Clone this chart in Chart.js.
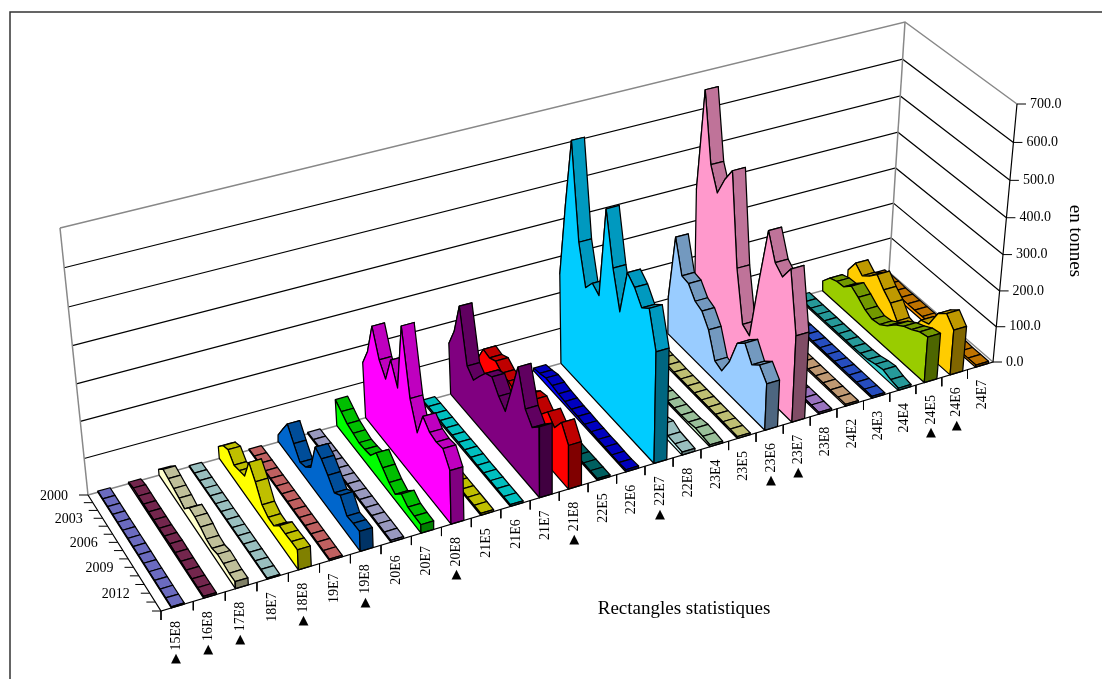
<!DOCTYPE html>
<html>
<head>
<meta charset="utf-8">
<title>Rectangles statistiques</title>
<script src="https://cdn.jsdelivr.net/npm/chart.js@4"></script>
<style>
    html, body { margin: 0; padding: 0; background: #fff; }
    canvas { display: block; }
</style>
</head>
<body>
<canvas id="chart" width="1102" height="679"></canvas>
<script>
const categories = ['15E8','16E8','17E8','18E7','18E8','19E7','19E8','20E6','20E7','20E8','21E5','21E6','21E7','21E8','22E5','22E6','22E7','22E8','23E4','23E5','23E6','23E7','23E8','24E2','24E3','24E4','24E5','24E6','24E7'];
const markedCategories = ['15E8','16E8','17E8','18E8','19E8','20E8','21E8','22E7','23E6','23E7','24E5','24E6'];
const years = [2000,2001,2002,2003,2004,2005,2006,2007,2008,2009,2010,2011,2012,2013,2014];
const yearLabels = [2000,2003,2006,2009,2012];
const valueTicks = [0,100,200,300,400,500,600,700];

// tonnes per year, one list per rectangle
const v15E8 = [3,3,3,3,3,3,3,3,3,3,3,3,3,3,3];
const v16E8 = [4,9,8,7,7,7,6,7,8,7,6,5,5,5,5];
const v17E8 = [16,37,32,26,21,13,37,35,29,19,16,23,21,18,19];
const v18E7 = [3,3,3,3,3,3,3,3,3,3,3,3,3,3,3];
const v18E8 = [33,56,65,43,49,55,113,82,41,29,28,51,51,53,54];
const v19E7 = [3,4,4,4,4,4,4,4,4,4,4,4,4,4,4];
const v19E8 = [19,55,90,56,25,33,53,129,118,95,69,84,50,53,54];
const v20E6 = [4,4,5,5,5,5,5,5,5,5,5,5,5,5,5];
const v20E7 = [73,59,45,39,33,35,39,67,47,28,17,40,26,24,23];
const v20E8 = [153,203,290,218,185,256,200,385,212,140,205,183,178,182,145];
const v21E5 = [5,5,5,5,5,5,5,5,5,5,5,5,5,5,5];
const v21E6 = [5,6,6,6,6,6,6,6,6,5,5,5,5,5,5];
const v21E7 = [142,194,281,136,116,146,174,184,151,130,208,290,198,169,192];
const v21E8 = [79,123,118,128,114,111,103,114,134,140,120,147,125,160,119];
const v22E5 = [5,5,5,5,5,5,5,5,5,5,5,5,5,5,5];
const v22E6 = [8,12,18,16,12,10,8,8,6,6,5,5,4,4,6];
const v22E7 = [250,455,642,390,285,315,300,548,410,312,435,415,380,398,303];
const v22E8 = [5,5,5,5,5,5,5,5,6,8,15,22,12,10,8];
const v23E4 = [5,5,5,5,5,5,5,5,5,5,5,6,10,8,5];
const v23E5 = [15,10,8,6,6,5,5,5,5,5,5,5,5,5,5];
const v23E6 = [103,290,200,196,165,156,122,54,45,90,161,181,141,160,129];
const v23E7 = [385,668,485,425,478,518,272,135,122,290,445,378,358,398,238];
const v23E8 = [5,5,5,5,5,5,5,5,5,5,5,5,5,5,5];
const v24E2 = [5,5,5,5,5,5,5,5,5,5,5,5,5,5,5];
const v24E3 = [5,5,5,5,5,5,5,5,5,5,5,5,5,5,5];
const v24E4 = [5,5,5,5,5,5,5,5,5,6,8,14,18,10,6];
const v24E5 = [28,54,62,64,84,70,53,44,48,63,85,100,110,123,128];
const v24E6 = [40,77,58,75,97,71,51,18,13,35,77,85,134,153,126];
const v24E7 = [10,12,12,10,10,10,10,10,10,10,8,8,6,6,6];
const seriesValues = [v15E8,v16E8,v17E8,v18E7,v18E8,v19E7,v19E8,v20E6,v20E7,v20E8,v21E5,v21E6,v21E7,v21E8,v22E5,v22E6,v22E7,v22E8,v23E4,v23E5,v23E6,v23E7,v23E8,v24E2,v24E3,v24E4,v24E5,v24E6,v24E7];
const seriesColors = ['#8F8FFF','#993366','#FFFFCC','#CCFFFF','#FFFF00','#FF8080','#0066CC','#CCCCFF','#00FF00','#FF00FF','#FFFF00','#00FFFF','#800080','#FF0000','#008080','#0000FF','#00CCFF','#CCFFFF','#CCFFCC','#FFFF99','#99CCFF','#FF99CC','#CC99FF','#FFCC99','#3366FF','#33CCCC','#99CC00','#FFCC00','#FF9900'];

// corners of the box as the picture shows them
const floorBL = [88,495], floorBR = [889,272], floorFR = [993,362], floorFL = [161,611];
const riseBL = [-28,-267], riseBR = [16,-250], riseFR = [24,-258], riseFL = [-20,-275];
const maxValue = 700;
const ribbonStart = 0.32;

const lerp = (a, b, t) => [a[0] + (b[0] - a[0]) * t, a[1] + (b[1] - a[1]) * t];
const warp = (t, k) => (1 + k) * t / (1 + k * t);

function project(cat, depth, value) {
    const t = cat / categories.length;
    const d = 0.92 * depth / (1 - 0.08 * depth);
    const back = lerp(floorBL, floorBR, warp(t, 0.12));
    const front = lerp(floorFL, floorFR, warp(t, 0.13));
    const base = lerp(back, front, d);
    const rise = lerp(lerp(riseBL, riseBR, t), lerp(riseFL, riseFR, t), depth);
    const x = value / maxValue;
    const h = 0.95 * x + 0.05 * x * x; // upper gridlines sit further apart
    return { x: base[0] + rise[0] * h, y: base[1] + rise[1] * h };
}

function darken(hex, f) {
    const n = parseInt(hex.slice(1), 16);
    const c = [n >> 16, (n >> 8) & 255, n & 255].map(x => Math.round(x * f));
    return `rgb(${c[0]},${c[1]},${c[2]})`;
}

const painted = [];

function addLine(points, color, width) {
    painted.push({ data: points, showLine: true, fill: false, borderColor: color, borderWidth: width, pointRadius: 0, clip: false });
}

function addPoly(points, color) {
    painted.push({ data: points.concat([points[0]]), showLine: true, fill: 'shape', backgroundColor: color, borderColor: '#000', borderWidth: 1.25, borderJoinStyle: 'round', pointRadius: 0, clip: false });
}

// outer frame
addLine([{ x: 10, y: 679 }, { x: 10, y: 12 }, { x: 1102, y: 12 }], '#333', 1.5);

// walls
const n = categories.length;
valueTicks.forEach(v => {
    const color = v === maxValue || v === 0 ? '#888' : '#000';
    const width = v === maxValue || v === 0 ? 1.5 : 1.2;
    addLine([project(0, 0, v), project(n, 0, v), project(n, 1, v)], color, width);
});
addLine([project(0, 0, 0), project(0, 0, maxValue)], '#888', 1.5);
addLine([project(n, 0, 0), project(n, 0, maxValue)], '#888', 1.5);

// ribbons, far right first so the nearer ones cover them
for (let i = n - 1; i >= 0; i--) {
    const vals = seriesValues[i];
    const color = seriesColors[i];
    const left = i + ribbonStart, right = left + 0.4 + 0.1 * i / n;
    const last = years.length - 1;
    for (let j = 0; j < last; j++) {
        addPoly([
            project(left, j / last, vals[j]),
            project(right, j / last, vals[j]),
            project(right, (j + 1) / last, vals[j + 1]),
            project(left, (j + 1) / last, vals[j + 1])
        ], darken(color, 0.75));
    }
    const face = [project(left, 0, 0)];
    vals.forEach((v, j) => face.push(project(left, j / last, v)));
    face.push(project(left, 1, 0));
    addPoly(face, color);
    addPoly([
        project(left, 1, 0),
        project(right, 1, 0),
        project(right, 1, vals[last]),
        project(left, 1, vals[last])
    ], darken(color, 0.5));
}

// axes
addLine([project(0, 0, 0), project(0, 1, 0), project(n, 1, 0), project(n, 1, maxValue)], '#000', 1.2);
for (let i = 0; i < n; i++) {
    const p = project(i, 1, 0);
    addLine([p, { x: p.x, y: p.y + 9 }], '#000', 1);
}
years.forEach((y, j) => {
    const p = project(0, j / (years.length - 1), 0);
    addLine([p, { x: p.x - 9, y: p.y }], '#000', 1);
});
valueTicks.forEach(v => {
    const p = project(n, 1, v);
    addLine([p, { x: p.x + 9, y: p.y }], '#000', 1);
});

const textPlugin = {
    id: 'boxText',
    afterDatasetsDraw(chart) {
        const ctx = chart.ctx;
        const sx = chart.scales.x, sy = chart.scales.y;
        const px = p => [sx.getPixelForValue(p.x), sy.getPixelForValue(p.y)];
        ctx.save();
        ctx.fillStyle = '#000';
        ctx.font = '14px "Liberation Serif"';
        ctx.textBaseline = 'middle';

        categories.forEach((name, i) => {
            const [x, y] = px(project(i, 1, 0));
            ctx.save();
            ctx.translate(x + 15, y + 10);
            ctx.rotate(-Math.PI / 2);
            ctx.textAlign = 'right';
            ctx.fillText(name, 0, 0);
            ctx.restore();
            if (markedCategories.includes(name)) {
                ctx.save();
                ctx.font = '13px "DejaVu Sans"';
                ctx.textAlign = 'center';
                ctx.fillText('▲', x + 15, y + 48);
                ctx.restore();
            }
        });

        ctx.textAlign = 'right';
        yearLabels.forEach(y => {
            const [x, py] = px(project(0, years.indexOf(y) / (years.length - 1), 0));
            ctx.fillText(String(y), x - 20, py + 1);
        });

        ctx.textAlign = 'left';
        valueTicks.forEach(v => {
            const [x, y] = px(project(n, 1, v));
            ctx.fillText(v.toFixed(1), x + 13, y);
        });

        ctx.font = '19px "Liberation Serif"';
        ctx.textAlign = 'center';
        ctx.fillText('Rectangles statistiques', sx.getPixelForValue(684), sy.getPixelForValue(609));
        ctx.save();
        ctx.translate(sx.getPixelForValue(1075), sy.getPixelForValue(241));
        ctx.rotate(Math.PI / 2);
        ctx.fillText('en tonnes', 0, 0);
        ctx.restore();
        ctx.restore();
    }
};

// Chart.js paints dataset 0 last
new Chart(document.getElementById('chart'), {
    type: 'scatter',
    data: { datasets: painted.slice().reverse() },
    options: {
        responsive: false,
        animation: false,
        layout: { padding: 0 },
        scales: {
            x: { type: 'linear', min: 0, max: 1102, display: false },
            y: { type: 'linear', min: 0, max: 679, reverse: true, display: false }
        },
        plugins: { legend: { display: false }, tooltip: { enabled: false } }
    },
    plugins: [textPlugin]
});
</script>
</body>
</html>
